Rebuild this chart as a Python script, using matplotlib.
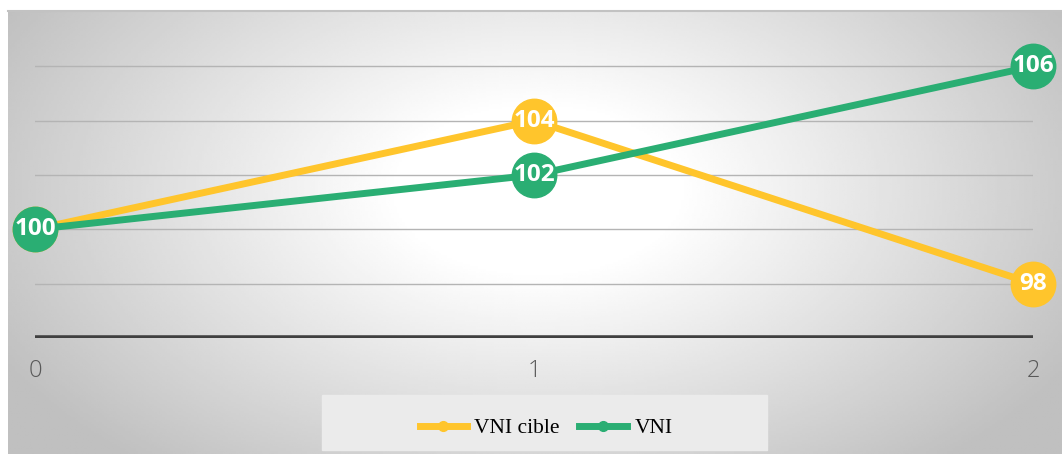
import matplotlib.pyplot as plt
import numpy as np
from matplotlib.patches import Rectangle
from matplotlib.lines import Line2D

x = [0, 1, 2]
vni_cible = [100, 104, 98]
vni = [100, 102, 106]
labels = ["VNI cible", "VNI"]
yellow = "#FFC52C"
green = "#2AAE73"

W, H = 1062, 454
fig = plt.figure(figsize=(W / 100, H / 100), dpi=100)

# radial gradient background
bg = fig.add_axes([8 / W, 0, 1 - 8 / W, 1 - 10 / H], zorder=0)
gx, gy = np.meshgrid(np.linspace(0, 1054, 400), np.linspace(0, 444, 200))
d = np.sqrt(((gx - 530) / 560) ** 2 + ((gy - 180) / 330) ** 2)
g = np.clip(1 - 0.25 * np.clip(d - 0.25, 0, None) / 0.85, 0.75, 1)
bg.imshow(g, cmap="gray", vmin=0, vmax=1, extent=[0, 1, 0, 1], aspect="auto", origin="upper")
bg.axis("off")
fig.add_artist(Line2D([8 / W, 1], [1 - 11 / H, 1 - 11 / H], color="#c2c2c2", lw=1.5))

ax = fig.add_axes([35 / W, 1 - 338 / H, (1033 - 35) / W, 326 / H], zorder=1)
ax.patch.set_alpha(0)
ax.set_xlim(0, 2)
ax.set_ylim(96, 108)
for s in ax.spines.values():
    s.set_visible(False)
for v in [98, 100, 102, 104, 106]:
    ax.axhline(v, color="#b4b4b4", lw=1, zorder=1)
ax.axhline(96, color="#404040", lw=4, zorder=2)
ax.set_yticks([])
ax.set_xticks(x)
ax.tick_params(axis="x", length=0, pad=15, labelsize=17, labelcolor="#595959")
for t in ax.get_xticklabels():
    t.set_fontfamily("Open Sans")
    t.set_fontweight("light")

for ys, c, z in [(vni_cible, yellow, 3), (vni, green, 4)]:
    ax.plot(x, ys, color=c, lw=5, marker="o", markersize=32, clip_on=False, zorder=z)
    for xi, yi in zip(x, ys):
        ax.text(xi, yi, str(yi), ha="center", va="center", color="white",
                fontsize=17.5, fontweight="bold", family="Open Sans", zorder=z + 0.5, clip_on=False)

# legend
fig.add_artist(Rectangle((322 / W, 1 - 450 / H), 445 / W, 55 / H,
                         transform=fig.transFigure, color="#ebebeb", zorder=1))
handles = [Line2D([], [], color=yellow, lw=5, marker="o", markersize=7),
           Line2D([], [], color=green, lw=5, marker="o", markersize=7)]
leg = fig.legend(handles, labels, loc="center", bbox_to_anchor=(546 / W, 1 - 428 / H),
                 ncol=2, frameon=False, handlelength=2.2, columnspacing=0.9, handletextpad=0.35,
                 prop={"family": "Liberation Serif", "size": 15.5})
leg.set_zorder(2)

fig.savefig("out.png", dpi=100)
